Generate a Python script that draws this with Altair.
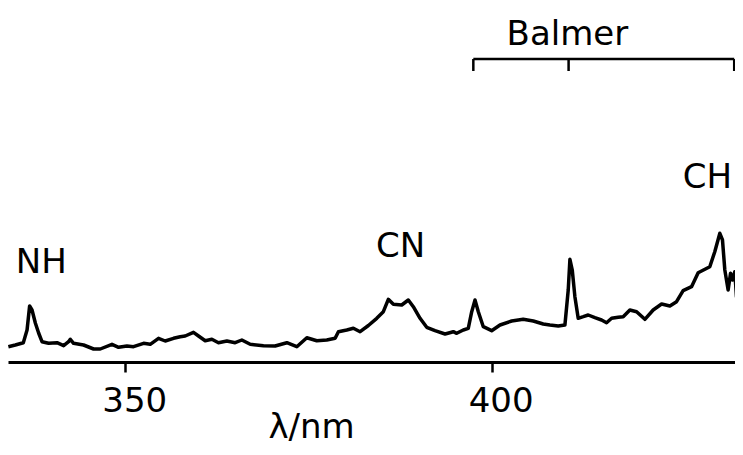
import altair as alt
import pandas as pd

# Spectrum (wavelength in nm, relative intensity)
wavelength = [334.05, 335.0, 336.09, 336.6, 336.95, 337.28, 337.73, 338.18, 338.64, 339.54,
              340.69, 341.59, 342.27, 342.5, 342.95, 344.31, 345.68, 346.59, 348.19, 349.09,
              350.23, 351.13, 352.5, 353.41, 354.54, 355.45, 356.59, 357.5, 358.18, 359.31,
              360.0, 360.91, 361.82, 362.72, 363.87, 365.0, 365.91, 367.05, 368.86, 370.45,
              372.05, 373.41, 374.78, 376.14, 377.5, 378.64, 379.09, 380.23, 381.13, 382.05,
              383.18, 384.32, 385.22, 385.9, 386.59, 387.73, 388.63, 389.31, 390.23, 391.14,
              392.27, 393.64, 394.77, 395.23, 396.13, 396.81, 397.28, 397.73, 398.18, 398.86,
              400.0, 401.14, 402.73, 404.31, 405.68, 407.04, 407.95, 409.09, 410.0, 410.45,
              410.68, 411.0, 411.36, 411.81, 412.5, 413.18, 414.09, 415.0, 415.68, 416.37,
              417.27, 417.95, 418.86, 419.78, 420.91, 422.04, 423.19, 424.32, 425.23, 426.13,
              427.28, 428.18, 429.77, 430.45, 431.14, 431.5, 431.82, 432.27, 432.6, 432.87,
              433.18, 433.41, 433.73, 434.0, 434.1]
intensity = [15.3, 17, 19.3, 32, 56, 52, 39, 29, 20.3, 18.7,
             19.3, 16.3, 20.3, 22.7, 18.7, 17, 13, 13, 17.7, 14.7,
             16, 15.3, 18.7, 17.7, 23.7, 21, 23.7, 25.3, 26, 29.7,
             26, 21.3, 22.7, 19.3, 21, 19.3, 22, 17.7, 16.3, 16,
             19.3, 15.3, 24.3, 21.3, 22, 23.7, 30.3, 32, 33.7, 30.3,
             36.5, 43.7, 50.3, 62.7, 57.7, 57, 62, 55.3, 43.7, 34.7,
             31.3, 28, 30.3, 28.7, 32, 33.7, 50.3, 62, 50.3, 35.3,
             31.3, 37, 41, 42.7, 41, 38, 37, 36, 37, 72,
             102.7, 92, 65.3, 43.7, 45.3, 47, 44.3, 42, 39.3, 43.7,
             44.7, 45.3, 52, 50.3, 42.7, 52, 58, 56, 60.3, 71.3,
             75.3, 89.3, 95.3, 110.3, 128.7, 122, 92, 72, 88.7, 82,
             90.3, 65.3, 78.7, 175.3, 179]

# Annotations
label_text = ["NH", "CN", "CH", "Balmer"]
label_x = [338.55, 387.57, 429.45, 410.34]
label_y = [89, 105, 174, 317]

# Balmer bracket
balmer_start = [397.5]
balmer_end = [433.1]
balmer_level = [303]
balmer_ticks = [397.5, 410.5, 433.1]
balmer_tick_bottom = [291]

x_ticks = [350, 400]
x_domain = [334.0, 434.3]
y_domain = [0, 354]

spec_df = pd.DataFrame({"wl": wavelength, "I": intensity})
lab_df = pd.DataFrame({"text": label_text, "wl": label_x, "I": label_y})
hbar_df = pd.DataFrame({"x1": balmer_start, "x2": balmer_end, "y": balmer_level})
vbar_df = pd.DataFrame({"x": balmer_ticks,
                        "y1": balmer_level * len(balmer_ticks),
                        "y2": balmer_tick_bottom * len(balmer_ticks)})

FONT = "DejaVu Sans"

xscale = alt.Scale(domain=x_domain, nice=False, zero=False)
yscale = alt.Scale(domain=y_domain, nice=False, zero=True)

line = alt.Chart(spec_df).mark_line(color="black", strokeWidth=3.5, strokeJoin="round").encode(
    x=alt.X("wl:Q", scale=xscale,
            axis=alt.Axis(values=x_ticks, title="λ/nm", grid=False,
                          domainColor="black", domainWidth=3,
                          tickColor="black", tickWidth=2.5, tickSize=10,
                          labelFont=FONT, labelFontSize=34, labelColor="black",
                          labelPadding=12, labelOffset=9, labelFlush=False,
                          titleFont=FONT, titleFontSize=34, titleFontWeight="normal",
                          titleColor="black", titleX=303, titleY=75,
                          titleBaseline="alphabetic", titleAlign="center")),
    y=alt.Y("I:Q", scale=yscale, axis=None),
)

hbar = alt.Chart(hbar_df).mark_rule(color="black", strokeWidth=2.5).encode(
    x=alt.X("x1:Q", scale=xscale), x2="x2:Q",
    y=alt.Y("y:Q", scale=yscale),
)
vbar = alt.Chart(vbar_df).mark_rule(color="black", strokeWidth=2.5).encode(
    x=alt.X("x:Q", scale=xscale),
    y=alt.Y("y1:Q", scale=yscale), y2="y2:Q",
)

labels = alt.Chart(lab_df).mark_text(
    font=FONT, fontSize=34, color="black", align="center", baseline="alphabetic"
).encode(
    x=alt.X("wl:Q", scale=xscale),
    y=alt.Y("I:Q", scale=yscale),
    text="text:N",
)

chart = alt.layer(line, hbar, vbar, labels).properties(
    width=735, height=354,
    autosize=alt.AutoSizeParams(type="none"),
    padding={"left": 0, "top": 0, "right": -8, "bottom": 82},
    background="white",
).configure_view(stroke=None)

chart.save("out.html", embed_options={"renderer": "svg", "actions": False})
